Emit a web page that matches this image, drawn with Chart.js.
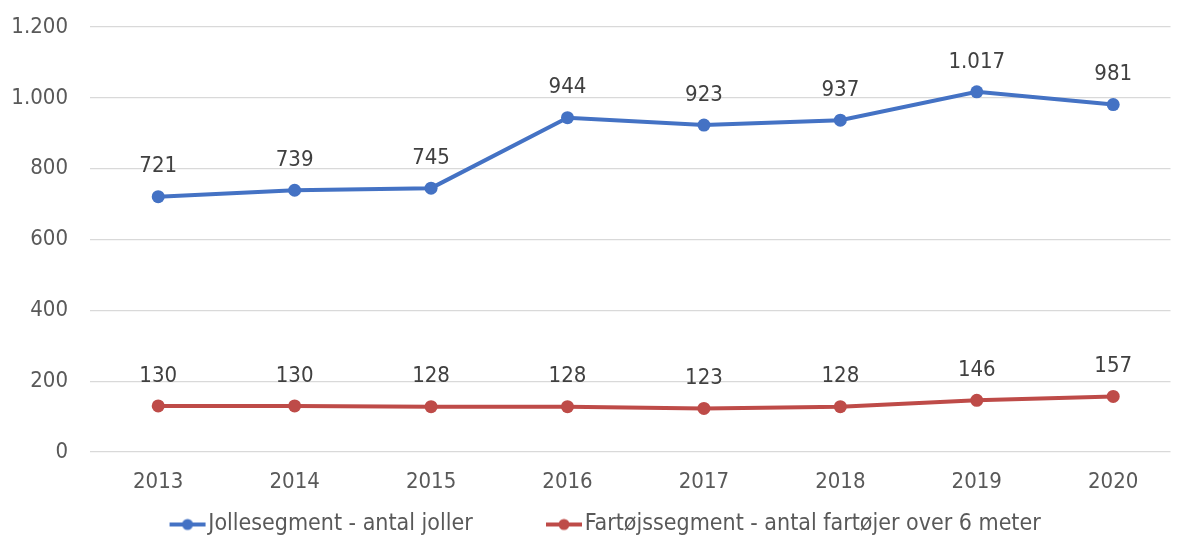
<!DOCTYPE html>
<html>
<head>
<meta charset="utf-8">
<script src="https://cdn.jsdelivr.net/npm/chart.js@4.4.1/dist/chart.umd.min.js"></script>
<style>
  html, body { margin: 0; padding: 0; background: #ffffff; overflow: hidden; }
  #wrap { width: 1177px; height: 543px; }
</style>
</head>
<body>
<div id="wrap"><canvas id="c" width="1177" height="543"></canvas></div>
<script>
const categories = ['2013', '2014', '2015', '2016', '2017', '2018', '2019', '2020'];
const jolleValues = [721, 739, 745, 944, 923, 937, 1017, 981];
const fartojValues = [130, 130, 128, 128, 123, 128, 146, 157];
const yTicks = [0, 200, 400, 600, 800, 1000, 1200];
const seriesNames = ['Jollesegment - antal joller', 'Fartøjssegment - antal fartøjer over 6 meter'];

const BLUE = '#4472C4';
const RED = '#BE4B48';
const FONT = '"DejaVu Sans Condensed", "DejaVu Sans", sans-serif';
const FS = 22;
const LFS = 23;
const MARK_W = 94.5;

function fmt(v) {
  return String(v).replace(/\B(?=(\d{3})+(?!\d))/g, '.');
}

// legend marker: line with dot, placed in right part of a wide image
function legendMarker(color) {
  const c = document.createElement('canvas');
  c.width = Math.round(MARK_W + 19); c.height = 14;
  const g = c.getContext('2d');
  const x0 = c.width - 37;
  g.strokeStyle = color; g.lineWidth = 4;
  g.beginPath(); g.moveTo(x0, 7); g.lineTo(x0 + 36, 7); g.stroke();
  g.fillStyle = color;
  g.beginPath(); g.arc(x0 + 18, 7, 5.5, 0, Math.PI * 2); g.fill();
  return c;
}

const dataLabels = {
  id: 'dataLabels',
  afterDatasetsDraw(chart) {
    const ctx = chart.ctx;
    ctx.save();
    ctx.font = FS + 'px ' + FONT;
    ctx.fillStyle = '#404040';
    ctx.textAlign = 'center';
    ctx.textBaseline = 'middle';
    chart.data.datasets.forEach((ds, i) => {
      const meta = chart.getDatasetMeta(i);
      meta.data.forEach((pt, j) => {
        ctx.fillText(fmt(ds.data[j].y), pt.x, pt.y - 30);
      });
    });
    ctx.restore();
  }
};

const legendShift = {
  id: 'legendShift',
  afterLayout(chart) {
    const l = chart.legend;
    if (l) { l.left -= 17; l.right -= 17; l.top += 3; l.bottom += 3; }
  }
};

const toXY = arr => arr.map((v, i) => ({ x: i, y: v }));

new Chart(document.getElementById('c'), {
  type: 'line',
  data: {
    datasets: [
      {
        label: seriesNames[0],
        data: toXY(jolleValues),
        borderColor: BLUE,
        backgroundColor: BLUE,
        borderWidth: 4,
        pointRadius: 6.5,
        pointHoverRadius: 6.5,
        pointBackgroundColor: BLUE,
        pointBorderWidth: 0,
        tension: 0
      },
      {
        label: seriesNames[1],
        data: toXY(fartojValues),
        borderColor: RED,
        backgroundColor: RED,
        borderWidth: 4,
        pointRadius: 6.5,
        pointHoverRadius: 6.5,
        pointBackgroundColor: RED,
        pointBorderWidth: 0,
        tension: 0
      }
    ]
  },
  options: {
    responsive: false,
    animation: false,
    layout: { padding: { top: 27, right: 0, left: 0, bottom: 0 } },
    plugins: {
      tooltip: { enabled: false },
      legend: {
        position: 'bottom',
        labels: {
          usePointStyle: true,
          pointStyleWidth: MARK_W,
          padding: 6,
          color: '#595959',
          font: { family: FONT, size: LFS },
          generateLabels(chart) {
            return chart.data.datasets.map((ds, i) => ({
              text: ds.label,
              pointStyle: legendMarker(ds.borderColor),
              fillStyle: ds.borderColor,
              strokeStyle: ds.borderColor,
              lineWidth: 0,
              fontColor: '#595959',
              datasetIndex: i,
              hidden: false
            }));
          }
        }
      }
    },
    scales: {
      x: {
        type: 'linear',
        min: -0.5,
        max: 7.42,
        grid: { display: false },
        border: { display: false },
        afterBuildTicks(scale) {
          scale.ticks = categories.map((c, i) => ({ value: i }));
        },
        afterFit(scale) { scale.height = 52; scale.paddingLeft = 0; scale.paddingRight = 0; },
        ticks: {
          autoSkip: false,
          maxRotation: 0,
          padding: 9,
          color: '#595959',
          font: { family: FONT, size: FS },
          callback: (v) => categories[v]
        }
      },
      y: {
        min: 0,
        max: 1200,
        afterBuildTicks(scale) {
          scale.ticks = yTicks.map(v => ({ value: v }));
        },
        afterFit(scale) { scale.width = 90; scale.paddingTop = 0; scale.paddingBottom = 0; },
        grid: { color: '#d9d9d9', lineWidth: 1.3, drawTicks: false },
        border: { display: false },
        ticks: {
          padding: 22,
          color: '#595959',
          font: { family: FONT, size: FS },
          callback: (v) => fmt(v)
        }
      }
    }
  },
  plugins: [dataLabels, legendShift]
});
</script>
</body>
</html>
